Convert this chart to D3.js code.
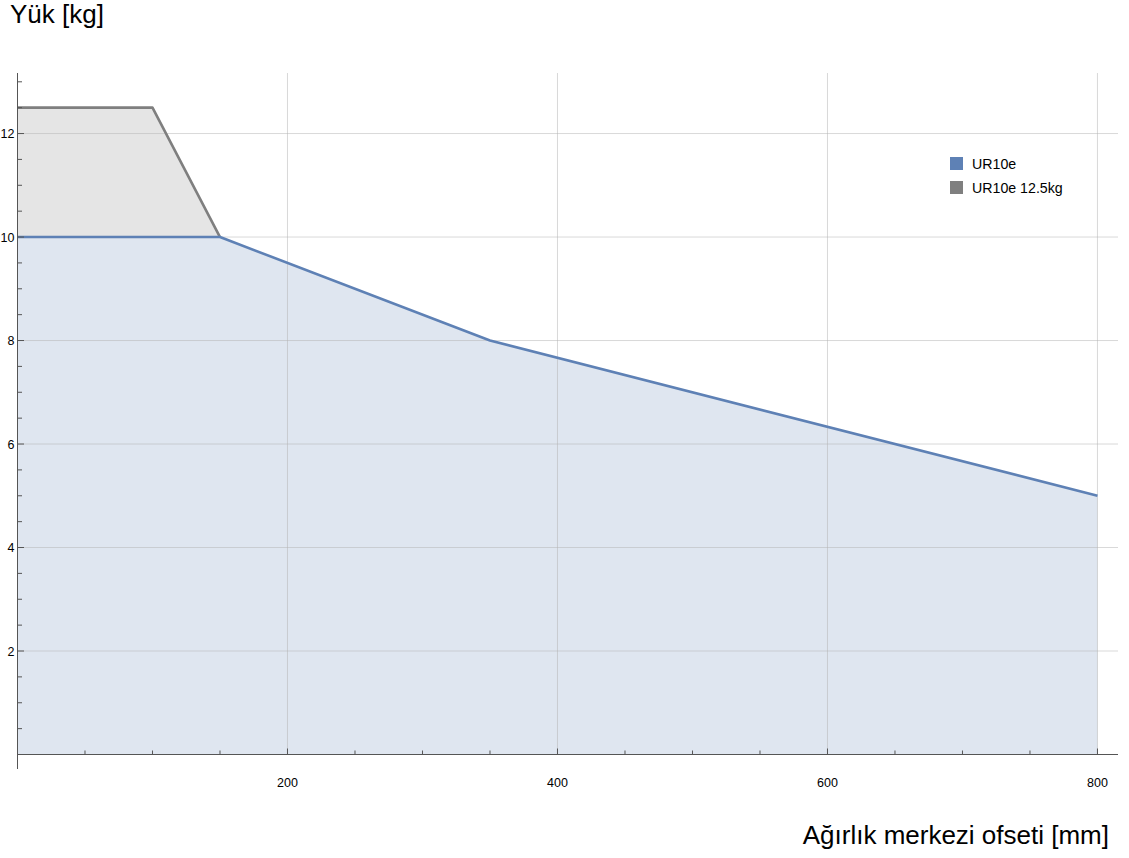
<!DOCTYPE html>
<html><head><meta charset="utf-8">
<script src="https://cdn.jsdelivr.net/npm/d3@7"></script>
<style>body{margin:0;background:#fff}svg{display:block;font-family:"Liberation Sans",Arial,sans-serif}</style>
</head><body><svg id="c" width="1129" height="858"></svg>
<script>
const seriesNames = ["UR10e", "UR10e 12.5kg"];
const ur10eX = [0, 150, 350, 800];
const ur10eY = [10, 10, 8, 5];
const ur125X = [0, 100, 150];
const ur125Y = [12.5, 12.5, 10];
const xMajorTicks = [200, 400, 600, 800];
const yMajorTicks = [2, 4, 6, 8, 10, 12];
const xLabel = "Ağırlık merkezi ofseti [mm]";
const yLabel = "Yük [kg]";

const svg = d3.select("#c");
const x = d3.scaleLinear().domain([0, 815.2]).range([17.5, 1118]);
const y = d3.scaleLinear().domain([0, 13.17]).range([754.5, 73]);

const d1 = ur10eX.map((v, i) => [v, ur10eY[i]]);
const d2 = ur125X.map((v, i) => [v, ur125Y[i]]);
const area = d3.area().x(d => x(d[0])).y0(y(0)).y1(d => y(d[1]));
const area2 = d3.area().x(d => x(d[0])).y0(y(10)).y1(d => y(d[1]));
const line = d3.line().x(d => x(d[0])).y(d => y(d[1]));

svg.append("path").datum(d2).attr("d", area2).attr("fill", "#7f7f7f").attr("fill-opacity", 0.2);
svg.append("path").datum(d1).attr("d", area).attr("fill", "#5e81b5").attr("fill-opacity", 0.2);

// grid
svg.append("g").selectAll("line").data(xMajorTicks).join("line")
  .attr("x1", d => x(d)).attr("x2", d => x(d)).attr("y1", y(13.17)).attr("y2", y(0))
  .attr("stroke", "#b4b4b4").attr("stroke-opacity", 0.5);
svg.append("g").selectAll("line").data(yMajorTicks).join("line")
  .attr("x1", x(0)).attr("x2", x(815.2)).attr("y1", d => y(d)).attr("y2", d => y(d))
  .attr("stroke", "#b4b4b4").attr("stroke-opacity", 0.5);

svg.append("path").datum(d2).attr("d", line).attr("fill", "none").attr("stroke", "#7f7f7f").attr("stroke-width", 2.6).attr("stroke-linejoin", "round");
svg.append("path").datum(d1).attr("d", line).attr("fill", "none").attr("stroke", "#5e81b5").attr("stroke-width", 2.6).attr("stroke-linejoin", "round");

// axes
const gx = svg.append("g").attr("transform", `translate(0,${y(0)})`);
gx.append("line").attr("x1", 17.5).attr("x2", 1118).attr("stroke", "#555").attr("stroke-width", 1);
gx.selectAll(".t").data(d3.range(50, 801, 50)).join("line")
  .attr("x1", d => x(d)).attr("x2", d => x(d))
  .attr("y1", d => xMajorTicks.includes(d) ? -6 : -4).attr("y2", 0)
  .attr("stroke", "#555");
gx.selectAll("text").data(xMajorTicks).join("text")
  .attr("x", d => x(d)).attr("y", 32).attr("text-anchor", "middle")
  .attr("font-size", 12.5).attr("fill", "#000").text(d => d);

const gy = svg.append("g");
gy.append("line").attr("x1", 17.5).attr("x2", 17.5).attr("y1", 73).attr("y2", 769).attr("stroke", "#555");
gy.selectAll(".t").data(d3.range(0.5, 13.01, 0.5)).join("line")
  .attr("x1", 17.5).attr("x2", d => yMajorTicks.includes(d) ? 24 : 22)
  .attr("y1", d => y(d)).attr("y2", d => y(d)).attr("stroke", "#555");
gy.selectAll("text").data(yMajorTicks).join("text")
  .attr("x", 14.5).attr("y", d => y(d) + 4.5).attr("text-anchor", "end")
  .attr("font-size", 12.5).attr("fill", "#000").text(d => d);

// labels
svg.append("text").attr("x", 10).attr("y", 23).attr("font-size", 26).attr("fill", "#000").text(yLabel);
svg.append("text").attr("x", 1109).attr("y", 844).attr("text-anchor", "end").attr("font-size", 26).attr("fill", "#000").text(xLabel);

// legend
const colors = ["#5e81b5", "#7f7f7f"];
const lg = svg.append("g");
seriesNames.forEach((n, i) => {
  lg.append("rect").attr("x", 950).attr("y", 157 + i * 24).attr("width", 13).attr("height", 13).attr("fill", colors[i]);
  lg.append("text").attr("x", 972).attr("y", 169 + i * 24).attr("font-size", 14.2).attr("fill", "#000").text(n);
});
</script></body></html>
